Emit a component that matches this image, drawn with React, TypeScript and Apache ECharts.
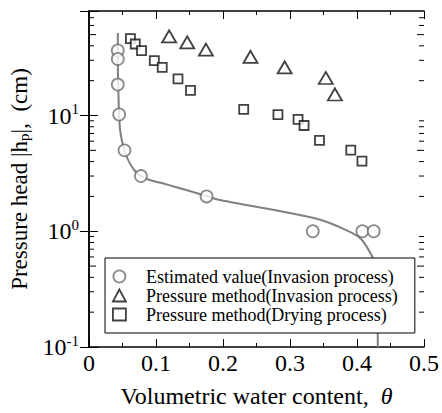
import React, { useEffect, useRef } from "react";
import * as echarts from "echarts";

const estTheta = [0.043, 0.043, 0.043, 0.045, 0.053, 0.0775, 0.1755, 0.334, 0.408, 0.425];
const estHead = [36.5, 30.8, 18.5, 10.2, 5.0, 3.0, 2.0, 1.0, 1.0, 1.0];

const curveTheta = [0.043, 0.043, 0.044, 0.045, 0.047, 0.054, 0.0667, 0.0814, 0.1157, 0.145, 0.1755, 0.1956, 0.3426, 0.3916, 0.4064, 0.421, 0.426, 0.429, 0.431, 0.431];
const curveHead = [51.6, 30, 15, 10, 7.1, 4.77, 3.42, 2.9, 2.54, 2.27, 2.02, 1.86, 1.27, 0.975, 0.853, 0.634, 0.537, 0.4, 0.25, 0.1];

const triTheta = [0.1196, 0.1466, 0.1745, 0.241, 0.292, 0.3534, 0.367];
const triHead = [48.3, 42.8, 37.1, 32.1, 26.1, 21.1, 15.2];

const sqTheta = [0.0618, 0.0691, 0.0784, 0.0975, 0.1093, 0.1328, 0.1515, 0.2309, 0.282, 0.312, 0.321, 0.344, 0.3907, 0.4074];
const sqHead = [46.1, 41.5, 36.3, 29.8, 26.1, 20.7, 16.5, 11.3, 10.2, 9.25, 8.2, 6.1, 5.02, 4.04];

const minorTicks = [0.2, 0.3, 0.4, 0.5, 0.6, 0.7, 0.8, 0.9, 2, 3, 4, 5, 6, 7, 8, 9, 20, 30, 40, 50, 60, 70];
const midTicks = [0.5, 5, 50];

const legendNames = [
  "Estimated value(Invasion process)",
  "Pressure method(Invasion process)",
  "Pressure method(Drying process)",
];

const FONT = "'Liberation Serif', 'Times New Roman', serif";

export default function App() {
  const ref = useRef<HTMLDivElement>(null);
  useEffect(() => {
    document.body.style.margin = "0";
    if (!ref.current) return;
    const chart = echarts.init(ref.current, null, { renderer: "svg" });
    const zip = (a: number[], b: number[]) => a.map((v, i) => [v, b[i]]);
    const yLabel = (v: number) => {
      const l = Math.log10(v);
      const r = Math.round(l);
      if (Math.abs(l - r) > 1e-6) return "";
      return `{b|10}{s|${r}}`;
    };
    const xAxisBase = {
      type: "value",
      min: 0,
      max: 0.5,
      interval: 0.1,
      axisLine: { lineStyle: { color: "#000", width: 1.5 } },
      axisTick: { inside: true, length: 8, lineStyle: { color: "#000", width: 1 } },
      minorTick: { show: true, splitNumber: 2, length: 4, lineStyle: { color: "#000", width: 1 } },
      splitLine: { show: false },
      minorSplitLine: { show: false },
    };
    chart.setOption({
      animation: false,
      backgroundColor: "#fff",
      textStyle: { fontFamily: FONT },
      grid: { left: 88, right: 14, top: 11, bottom: 65 },
      legend: {
        data: [
          { name: legendNames[0], icon: "circle", itemStyle: { color: "#fff", borderColor: "#6e6e6e", borderWidth: 1.8 } },
          { name: legendNames[1], icon: "triangle", itemStyle: { color: "#fff", borderColor: "#111", borderWidth: 1.8 } },
          { name: legendNames[2], icon: "rect", itemStyle: { color: "#fff", borderColor: "#111", borderWidth: 1.8 } },
        ],
        orient: "vertical",
        left: 105,
        top: 258,
        padding: [9, 17, 9, 7],
        itemWidth: 13,
        itemHeight: 12,
        itemGap: 0,
        borderColor: "#000",
        borderWidth: 1,
        backgroundColor: "#fff",
        textStyle: { fontFamily: FONT, fontSize: 18, lineHeight: 19, color: "#000", padding: [0, 0, 0, 15] },
      },
      xAxis: [
        {
          ...xAxisBase,
          name: "Volumetric water content,  {i|θ}",
          nameLocation: "middle",
          nameGap: 37,
          nameTextStyle: {
            fontFamily: FONT,
            fontSize: 24,
            color: "#000",
            rich: { i: { fontFamily: FONT, fontSize: 24, fontStyle: "italic", color: "#000" } },
          },
          axisLabel: {
            margin: 4,
            fontFamily: FONT,
            fontSize: 24,
            color: "#000",
            formatter: (v: number) => (Math.abs(v) < 1e-9 ? "0" : v.toFixed(1)),
          },
        },
        {
          ...xAxisBase,
          position: "top",
          axisLabel: { show: false },
        },
      ],
      yAxis: [
        {
          type: "log",
          logBase: 10,
          min: 0.1,
          max: 80,
          name: "Pressure head |h{sub|p}|,  (cm)",
          nameLocation: "middle",
          nameGap: 58,
          nameTextStyle: {
            fontFamily: FONT,
            fontSize: 23,
            color: "#000",
            rich: { sub: { fontFamily: FONT, fontSize: 15, color: "#000", verticalAlign: "bottom", padding: [8, 0, 0, 0] } },
          },
          axisLine: { lineStyle: { color: "#000", width: 1.5 } },
          axisTick: { inside: true, length: 9, lineStyle: { color: "#000" } },
          axisLabel: {
            margin: 10,
            formatter: yLabel,
            rich: {
              b: { fontFamily: FONT, fontSize: 24, color: "#000" },
              s: { fontFamily: FONT, fontSize: 15, color: "#000", verticalAlign: "top", padding: [0, 0, 13, 0] },
            },
          },
          splitLine: { show: false },
        },
        {
          type: "log",
          logBase: 10,
          min: 0.1,
          max: 80,
          position: "right",
          axisLine: { lineStyle: { color: "#000", width: 1.5 } },
          axisTick: { inside: true, length: 9, lineStyle: { color: "#000" } },
          axisLabel: { show: false },
          splitLine: { show: false },
        },
      ],
      series: [
        {
          type: "custom",
          silent: true,
          data: minorTicks.map((v) => [0, v]),
          encode: { x: 0, y: 1 },
          renderItem: (params: any, api: any) => {
            const v = api.value(1);
            const pL = api.coord([0, v]);
            const pR = api.coord([0.5, v]);
            const len = midTicks.indexOf(v) >= 0 ? 7 : 5;
            return {
              type: "group",
              children: [
                { type: "line", shape: { x1: pL[0], y1: pL[1], x2: pL[0] + len, y2: pL[1] }, style: { stroke: "#000", lineWidth: 1 } },
                { type: "line", shape: { x1: pR[0], y1: pR[1], x2: pR[0] - len, y2: pR[1] }, style: { stroke: "#000", lineWidth: 1 } },
              ],
            };
          },
          z: 1,
        },
        {
          type: "line",
          name: "curve",
          data: zip(curveTheta, curveHead),
          smooth: 0.3,
          showSymbol: false,
          symbol: "none",
          lineStyle: { color: "#808080", width: 2 },
          z: 2,
        },
        {
          type: "scatter",
          name: legendNames[0],
          data: zip(estTheta, estHead),
          symbol: "circle",
          symbolSize: 12,
          itemStyle: { color: "#fff", borderColor: "#6e6e6e", borderWidth: 1.8 },
          z: 3,
        },
        {
          type: "scatter",
          name: legendNames[1],
          data: zip(triTheta, triHead),
          symbol: "triangle",
          symbolSize: [14, 12],
          itemStyle: { color: "#fff", borderColor: "#111", borderWidth: 1.8 },
          z: 3,
        },
        {
          type: "scatter",
          name: legendNames[2],
          data: zip(sqTheta, sqHead),
          symbol: "rect",
          symbolSize: 9,
          itemStyle: { color: "#fff", borderColor: "#111", borderWidth: 1.8 },
          z: 3,
        },
      ],
    });
    return () => chart.dispose();
  }, []);
  return <div ref={ref} style={{ width: 442, height: 413 }} />;
}
